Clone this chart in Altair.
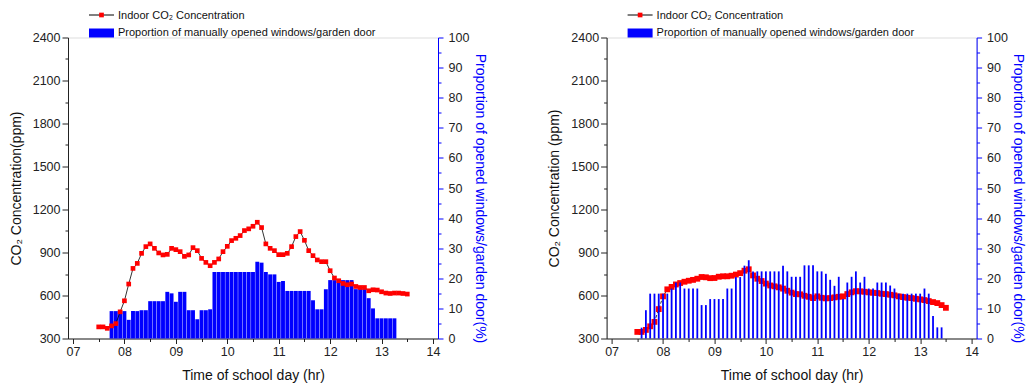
import altair as alt
import pandas as pd

# ---------------- data ----------------
TIMES = [7.5 + i * 5 / 60 for i in range(73)]  # 07:30 .. 13:30, every 5 min

CO2_A = [381, 381, 371, 388, 404, 486, 563, 680, 789, 824, 894, 941, 960, 929, 897,
         883, 887, 929, 920, 906, 873, 883, 934, 913, 859, 831, 808, 831, 855, 906,
         943, 983, 999, 1018, 1053, 1065, 1083, 1111, 1074, 960, 929, 913, 885, 885,
         894, 941, 1011, 1046, 985, 913, 878, 848, 836, 836, 773, 722, 703, 684, 675,
         680, 663, 656, 656, 633, 640, 638, 626, 617, 614, 617, 617, 614, 610]

BAR_A_START = 3
BAR_A = [9.1, 9.1, 9.1, 9.1, 6.2, 9.1, 9.1, 9.4, 9.4, 12.4, 12.4, 12.4, 12.4, 15.5,
         15.0, 12.2, 15.5, 15.5, 9.4, 9.4, 6.4, 9.4, 9.4, 9.7,
         22.1, 22.1, 22.1, 22.1, 22.1, 22.1, 22.1, 22.1, 22.1, 22.1,
         25.5, 25.2, 22.1, 21.3, 21.3, 18.8, 19.1,
         15.8, 15.8, 15.8, 15.8, 15.8, 15.8, 12.7, 9.7, 9.7, 16.4,
         19.4, 19.4, 19.4, 19.4, 19.4, 19.4, 16.4, 16.4, 16.4, 13.4, 10.0,
         6.7, 6.7, 6.7, 6.7, 6.7]

CO2_B = [346, 346, 360, 385, 416, 505, 594, 643, 660, 677, 687, 696, 703, 709, 717,
         729, 727, 721, 722, 731, 734, 734, 738, 746, 756, 773, 783, 740, 717, 701,
         683, 670, 664, 657, 648, 633, 620, 610, 608, 598, 591, 582, 594, 584, 580,
         582, 587, 591, 594, 610, 622, 630, 629, 626, 622, 619, 617, 612, 610, 605,
         601, 594, 589, 584, 582, 577, 573, 568, 561, 554, 547, 533, 514]

BAR_B_START = 1
BAR_B = [3.6, 9.4, 14.9, 14.9, 14.9, 14.9, 14.9, 16.6, 18.6, 18.6, 16.6, 16.6, 16.6,
         16.6, 11.1, 11.1, 13.1, 13.1, 13.1, 13.1, 16.6, 16.6, 20.4, 20.4, 24.2, 26.0,
         22.3, 22.3, 22.3, 22.3, 22.3, 22.3, 22.3, 24.2, 22.3, 20.5, 20.5, 20.5,
         24.3, 24.3, 24.3, 22.3, 22.3, 21.5, 19.5, 17.5, 20.5, 13.1, 18.6, 20.5, 22.3,
         18.6, 20.5, 16.6, 16.6, 18.6, 18.6, 18.6, 17.6, 16.6,
         14.9, 14.9, 14.9, 14.9, 14.9, 14.9, 16.6, 14.9, 7.5, 3.7, 3.7]

X_TICKS = [7 + 0.5 * i for i in range(15)]
Y_TICKS = list(range(300, 2401, 150))
P_TICKS = list(range(0, 101, 5))

LEG_LINE = "Indoor CO\u2082 Concentration"
LEG_BAR = "Proportion of manually opened windows/garden door"
RIGHT_TITLE = "Proportion of opened windows/garden door(%)"

FONT = "Liberation Sans, Arial, sans-serif"
BLUE = "#0000FF"
W, H = 370, 301


def panel(co2, bars, bar_start, ytitle, bar_w, sq_size, dash, bars_on_top):
    line_df = pd.DataFrame({"t": TIMES, "co2": co2})
    bar_df = pd.DataFrame({"t": TIMES[bar_start:bar_start + len(bars)], "p": bars})

    xenc = alt.X(
        "t:Q",
        scale=alt.Scale(domain=[7, 14], nice=False, zero=False),
        axis=alt.Axis(
            values=X_TICKS,
            labelExpr="datum.value % 1 === 0 ? (datum.value < 10 ? '0' + datum.value : '' + datum.value) : ''",
            tickSize={"condition": {"test": "datum.value % 1 === 0", "value": 5}, "value": 3},
            grid=False, domainColor="#222", tickColor="#222", labelColor="#222",
            labelFontSize=12.5, labelFont=FONT, labelPadding=2,
            title="Time of school day (hr)", titleFontSize=14, titleFont=FONT,
            titleFontWeight="normal", titleColor="#111",
            titleY=41, titleBaseline="alphabetic",
        ),
    )

    y_co2 = alt.Y(
        "co2:Q",
        scale=alt.Scale(domain=[300, 2400], nice=False, zero=False),
        axis=alt.Axis(
            orient="left", values=Y_TICKS,
            labelExpr="datum.value % 300 === 0 ? datum.value : ''",
            tickSize={"condition": {"test": "datum.value % 300 === 0", "value": 6}, "value": 3},
            grid=False, domainColor="#222", tickColor="#222", labelColor="#222",
            labelFontSize=12.5, labelFont=FONT, labelPadding=2,
            title=ytitle, titleFontSize=14, titleFont=FONT, titleFontWeight="normal",
            titleColor="#111", titleAngle=270, titleX=-52, titleY=H / 2,
            titleAlign="center", titleBaseline="middle",
        ),
    )

    y_p = alt.Y(
        "p:Q",
        scale=alt.Scale(domain=[0, 100], nice=False),
        axis=alt.Axis(
            orient="right", values=P_TICKS,
            labelExpr="datum.value % 10 === 0 ? datum.value : ''",
            tickSize={"condition": {"test": "datum.value % 10 === 0", "value": 5}, "value": 3},
            grid=False, domainColor=BLUE, tickColor=BLUE, labelColor="#222",
            labelFontSize=12.5, labelFont=FONT, labelPadding=5,
            title=RIGHT_TITLE, titleFontSize=14, titleFont=FONT, titleFontWeight="normal",
            titleColor=BLUE, titleAngle=90, titleX=41, titleY=H / 2 + 10,
            titleAlign="center", titleBaseline="middle",
        ),
    )

    bar = alt.Chart(bar_df).mark_bar(size=bar_w, color=BLUE, opacity=1).encode(x=xenc, y=y_p)

    line_kw = dict(color="black", strokeWidth=0.8)
    if dash:
        line_kw["strokeDash"] = dash
    line = alt.Chart(line_df).mark_line(**line_kw).encode(x=xenc, y=y_co2)
    pts = alt.Chart(line_df).mark_square(color="#FF0000", size=sq_size, opacity=1).encode(
        x=xenc, y=y_co2)
    co2_layer = alt.layer(line, pts)

    one = pd.DataFrame({"a": [0]})
    leg_line = alt.Chart(one).mark_rule(color="black", strokeWidth=1).encode(
        x=alt.value(21), x2=alt.value(46), y=alt.value(-22.5))
    leg_sq = alt.Chart(one).mark_square(color="#FF0000", size=22, opacity=1).encode(
        x=alt.value(33.5), y=alt.value(-22.5))
    leg_rect = alt.Chart(one).mark_rect(color=BLUE).encode(
        x=alt.value(21), x2=alt.value(46), y=alt.value(-9), y2=alt.value(0))
    leg_t1 = alt.Chart(one).mark_text(align="left", baseline="alphabetic", fontSize=11,
                                      font=FONT, color="#111").encode(
        x=alt.value(50), y=alt.value(-18.3), text=alt.value(LEG_LINE))
    leg_t2 = alt.Chart(one).mark_text(align="left", baseline="alphabetic", fontSize=11,
                                      font=FONT, color="#111").encode(
        x=alt.value(50), y=alt.value(-1.3), text=alt.value(LEG_BAR))

    if bars_on_top:
        layers = [co2_layer, bar]
    else:
        layers = [bar, co2_layer]
    ch = alt.layer(*layers, leg_line, leg_sq, leg_rect, leg_t1, leg_t2).resolve_scale(
        y="independent").properties(width=W, height=H)
    return ch


left = panel(CO2_A, BAR_A, BAR_A_START, "CO\u2082 Concentration(ppm)", 3.9, 22, None, False)
right = panel(CO2_B, BAR_B, BAR_B_START, "CO\u2082 Concentration (ppm)", 1.8, 34, [3, 2], True)

chart = alt.hconcat(left, right, spacing=168.6, bounds="flush").properties(
    padding={"left": 8, "top": 9.5, "right": 0, "bottom": 0}
).configure_view(strokeWidth=0).configure(font=FONT, background="white")

chart.save("out.html", embed_options={"renderer": "svg", "actions": False})
